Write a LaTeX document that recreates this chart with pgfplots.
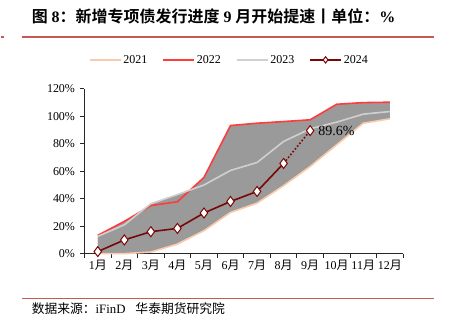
\documentclass[border=0pt]{standalone}
\usepackage{pgfplots}
\pgfplotsset{compat=1.18}
\usepgfplotslibrary{fillbetween}
\usepackage{fontspec}
\setmainfont{Liberation Serif}
\newfontfamily\cjk{Noto Sans CJK SC}
\newfontfamily\cjkb{Noto Sans CJK SC Bold}
\definecolor{c21}{HTML}{F8CBAD}
\definecolor{c22}{HTML}{FF3B3B}
\definecolor{c23}{HTML}{D0D0D0}
\definecolor{c24}{HTML}{780808}
\definecolor{fillg}{HTML}{9A9A9A}
\definecolor{rulec}{HTML}{C45A55}
\begin{document}
\begin{tikzpicture}
\path (0,0) rectangle (451pt,323pt);
\node[anchor=west, font=\fontsize{16pt}{18pt}\selectfont, inner xsep=0pt] at (31pt,307pt)
  {{\cjkb 图}\ \textbf{8}{\cjkb ：新增专项债发行进度}\ \textbf{9}\ {\cjkb 月开始提速丨单位：}\textbf{\%}};
\draw[rulec, line width=1.2pt] (0pt,286pt) -- (3pt,286pt);
\draw[rulec, line width=1.2pt] (21pt,286pt) -- (434pt,286pt);
\draw[rulec, line width=1.2pt] (21pt,23.7pt) -- (434pt,23.7pt);
\node[anchor=west, font=\fontsize{12.8pt}{14pt}\selectfont, inner xsep=0pt] at (31pt,14pt)
  {{\cjk 数据来源：}iFinD\hspace{10pt}{\cjk 华泰期货研究院}};
\begin{axis}[
  at={(84pt,69pt)}, anchor=south west, scale only axis,
  width=319pt, height=165pt,
  xmin=-0.5, xmax=11.5, ymin=0, ymax=120,
  clip=false,
  axis x line*=bottom, axis y line*=left,
  axis line style={-, draw=black!85, line width=0.8pt},
  tick style={draw=black!85, line width=0.8pt},
  tick align=outside, major tick length=4pt,
  xtick={-0.5,0.5,...,11.5}, xticklabels={},
  extra x ticks={0,1,...,11},
  extra x tick labels={1{\cjk 月},2{\cjk 月},3{\cjk 月},4{\cjk 月},5{\cjk 月},6{\cjk 月},7{\cjk 月},8{\cjk 月},9{\cjk 月},10{\cjk 月},11{\cjk 月},12{\cjk 月}},
  extra x tick style={major tick length=0pt},
  xticklabel style={font=\fontsize{12pt}{13pt}\selectfont, yshift=-3pt, inner xsep=0pt},
  ytick={0,20,...,120},
  yticklabel={\pgfmathprintnumber{\tick}\%},
  yticklabel style={font=\fontsize{12pt}{13pt}\selectfont, xshift=-2pt},
  /pgf/number format/assume math mode=true,
  legend style={at={(0.4545,1.176)}, anchor=center, draw=none, fill=none,
    legend columns=4, font=\fontsize{12pt}{13pt}\selectfont,
    /tikz/every even column/.append style={column sep=13pt},
    /tikz/every odd column/.append style={column sep=0pt}},
  legend image code/.code={\draw[mark repeat=2,mark phase=2,#1,mark size=3.2pt] plot coordinates {(0pt,0pt) (15.5pt,0pt) (31pt,0pt)};},
]
\addplot[c21, line width=1.6pt, name path=p21] coordinates {(0,0) (1,0) (2,1.2) (3,7) (4,16.7) (5,30) (6,36.8) (7,49.5) (8,63.5) (9,79.3) (10,95) (11,98.2)};
\addlegendentry{2021}
\addplot[c22, line width=1.6pt, name path=p22] coordinates {(0,13.3) (1,23.5) (2,35) (3,37.8) (4,55.5) (5,93.3) (6,95) (7,96.2) (8,97.5) (9,108.8) (10,110) (11,110.3)};
\addlegendentry{2022}
\addplot[c23, line width=1.6pt, name path=p23] coordinates {(0,12.6) (1,21) (2,36.4) (3,43) (4,50) (5,60.6) (6,66.4) (7,81.7) (8,90.9) (9,95.8) (10,101.6) (11,103.5)};
\addlegendentry{2023}
\addplot[fillg, forget plot] fill between[of=p22 and p21];
\addplot[fillg, forget plot] fill between[of=p23 and p21];
\addplot[c24, line width=1.6pt, dotted, forget plot] coordinates {(7,65.7) (8,89.6)};
\addplot[c24, line width=1.6pt, mark=diamond*, mark size=5pt, mark options={fill=white, draw=c24, line width=1pt, solid}] coordinates {(0,1.5) (1,10) (2,16) (3,18.4) (4,29.6) (5,38) (6,45.3) (7,65.7)};
\addlegendentry{2024}
\addplot[c24, only marks, mark=diamond*, mark size=5pt, mark options={fill=white, draw=c24, line width=1pt}, forget plot] coordinates {(8,89.6)};
\node[anchor=west, font=\fontsize{14pt}{15pt}\selectfont, inner xsep=0pt] at (axis cs:8,89.6) [xshift=8pt] {89.6\%};
\end{axis}
\end{tikzpicture}
\end{document}
